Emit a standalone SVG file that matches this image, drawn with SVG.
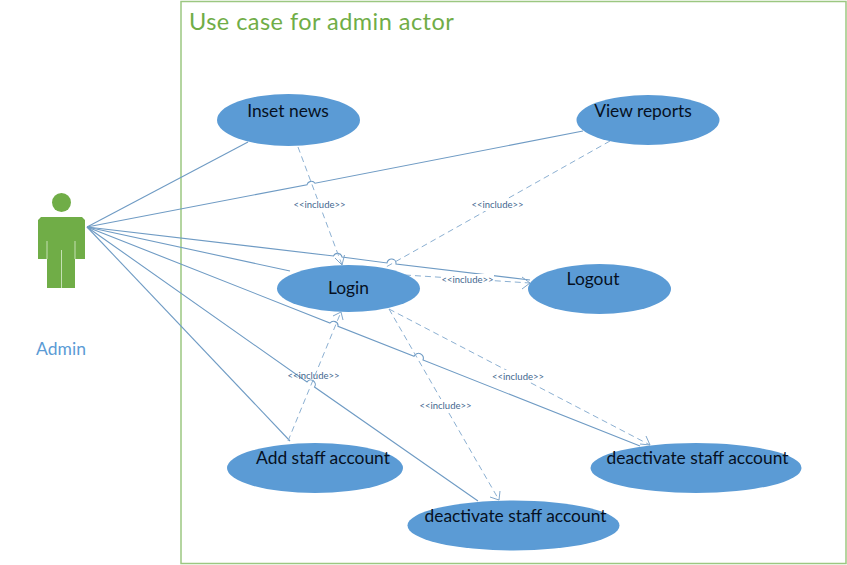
<svg xmlns="http://www.w3.org/2000/svg" width="847" height="565" viewBox="0 0 847 565">
<style>
text{font-family:"Lato","Open Sans","Liberation Sans",sans-serif}
.uc{fill:#5b9bd5}
.ut{fill:#061022;font-size:17.4px;text-anchor:middle}
.l{fill:none;stroke:#6f9bc4;stroke-width:1.1}
.d{fill:none;stroke:#8cb0d2;stroke-width:1;stroke-dasharray:6 4}
.a{fill:none;stroke:#7fa6cb;stroke-width:1}
.inc{fill:#44688f;font-size:9.5px;text-anchor:middle}
</style>
<rect width="847" height="565" fill="#fff"/>
<g id="boundary">
<rect x="181" y="1.500" width="665" height="562" fill="none" stroke="#9cc781" stroke-width="1.500"/>
<text x="189" y="30" font-size="23.500" letter-spacing=".46" fill="#70ad47">Use case for admin actor</text>
</g>
<g id="actor-admin">
<circle cx="61.500" cy="202.500" r="9.500" fill="#70ad47"/>
<path d="M41 217H82L85 220V259H75V288H47V259H38V220Z" fill="#70ad47"/>
<path d="M47 241V259M75 241V259M61.500 250V288" stroke="#c5e0b4" stroke-width="1" fill="none"/>
<text x="61" y="355" font-size="17.500" text-anchor="middle" fill="#5b9bd5">Admin</text>
</g>
<g id="connectors">
<path class="l" d="M87 227L248 142"/>
<path class="l" d="M87 227L307 184.700A4.500 4.500 0 0 1 315 183.200L583 131"/>
<path class="l" d="M87 227L333.500 256A4.500 4.500 0 0 1 342 257L387 263A4.500 4.500 0 0 1 396 264L530 280"/>
<path class="l" d="M87 227L290 271"/>
<path class="l" d="M87 227L330 323A4.500 4.500 0 0 1 338 326.300L414 356.300A4.800 4.800 0 0 1 423 360L640 446"/>
<path class="l" d="M87 227L307 382A4.500 4.500 0 0 1 314.500 387L478 501"/>
<path class="l" d="M87 227L290 441"/>
<path class="d" d="M298 147L342 265"/>
<path class="a" d="M335 258L342 265L344.500 255"/>
<path class="d" d="M610 141L386 267"/>
<path class="d" d="M405 275L530 283"/>
<path class="a" d="M522 277L530 283L522 289"/>
<path class="d" d="M288 441L341 312"/>
<path class="a" d="M333 316L341 312L343 320"/>
<path class="d" d="M389 309L499 500"/>
<path class="a" d="M490 497L499 500L500 491"/>
<path class="d" d="M389 309L650 445"/>
<path class="a" d="M640 444L650 445L646 436"/>
</g>
<g id="label-inc1"><rect x="293" y="199" width="53" height="12" fill="#fff"/><text class="inc" x="319.500" y="208">&lt;&lt;include&gt;&gt;</text></g>
<g id="label-inc2"><rect x="471" y="199" width="53" height="12" fill="#fff"/><text class="inc" x="497.500" y="208">&lt;&lt;include&gt;&gt;</text></g>
<g id="label-inc3"><rect x="441" y="274" width="53" height="12" fill="#fff"/><text class="inc" x="467.500" y="283">&lt;&lt;include&gt;&gt;</text></g>
<g id="label-inc4"><text class="inc" x="313.500" y="378.500">&lt;&lt;include&gt;&gt;</text></g>
<g id="label-inc5"><rect x="492" y="370" width="53" height="12" fill="#fff"/><text class="inc" x="518" y="379.500">&lt;&lt;include&gt;&gt;</text></g>
<g id="label-inc6"><rect x="419" y="399" width="53" height="12" fill="#fff"/><text class="inc" x="445.500" y="408.500">&lt;&lt;include&gt;&gt;</text></g>
<g id="uc-inset-news"><ellipse class="uc" cx="288.500" cy="120" rx="71.500" ry="26"/><text class="ut" x="288" y="117">Inset news</text></g>
<g id="uc-view-reports"><ellipse class="uc" cx="648" cy="120" rx="71.500" ry="25"/><text class="ut" x="643" y="117">View reports</text></g>
<g id="uc-login"><ellipse class="uc" cx="348.500" cy="288.500" rx="71.500" ry="23.500"/><text class="ut" x="348.500" y="294">Login</text></g>
<g id="uc-logout"><ellipse class="uc" cx="599.500" cy="289" rx="71.500" ry="25"/><text class="ut" x="593" y="285">Logout</text></g>
<g id="uc-add-staff"><ellipse class="uc" cx="315" cy="468" rx="88" ry="25"/><text class="ut" x="323" y="464">Add staff account</text></g>
<g id="uc-deactivate-right"><ellipse class="uc" cx="696" cy="468" rx="105.500" ry="25"/><text class="ut" x="697.500" y="464">deactivate staff account</text></g>
<g id="uc-deactivate-bottom"><ellipse class="uc" cx="513.500" cy="525.500" rx="106" ry="25"/><text class="ut" x="515.500" y="522">deactivate staff account</text></g>
</svg>
